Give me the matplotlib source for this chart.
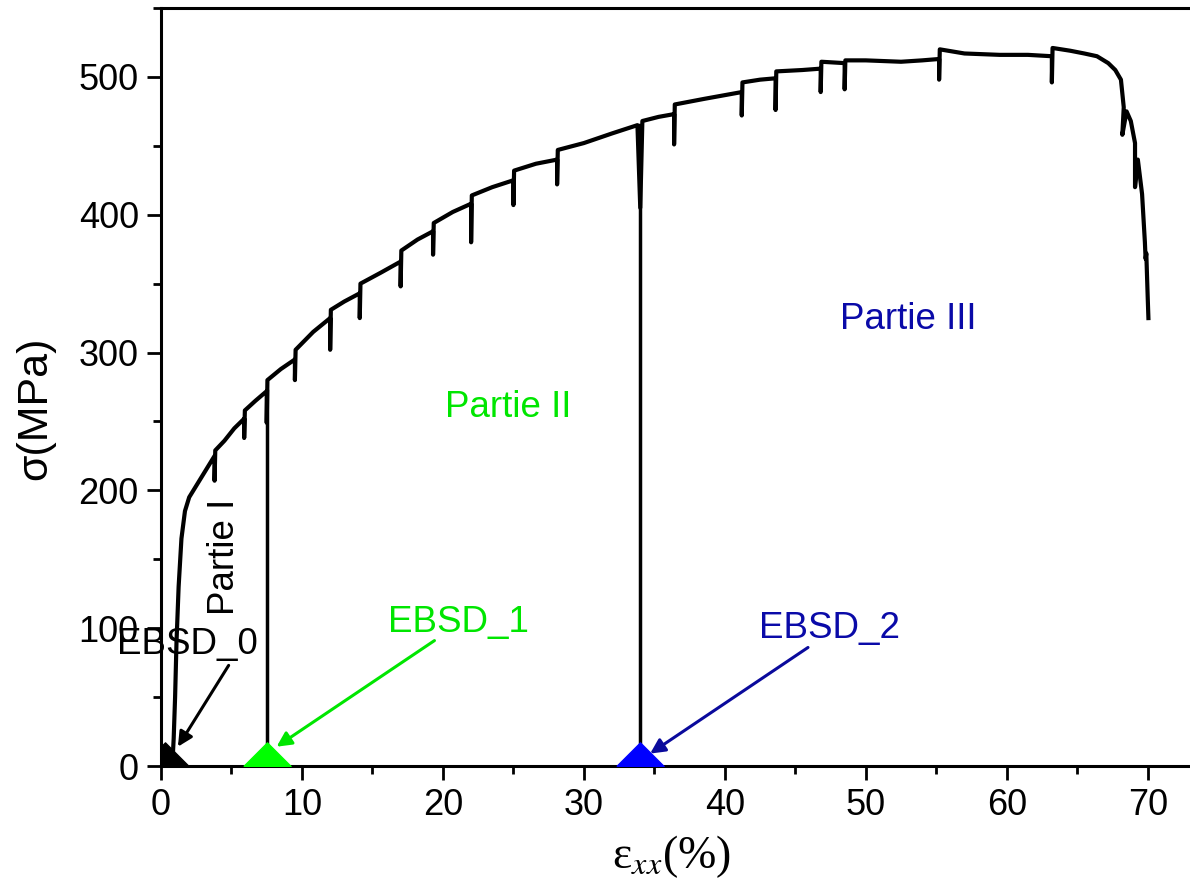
import matplotlib.pyplot as plt
from matplotlib.ticker import MultipleLocator

plt.rcParams['font.family'] = ['Liberation Sans', 'DejaVu Sans']
plt.rcParams['mathtext.fontset'] = 'stix'

# tensile curve (strain %, stress MPa), dips = partial unloads
strain = [0.8, 0.9, 1.0, 1.1, 1.25, 1.45, 1.7, 2.0, 2.6, 3.2,
          3.8, 3.8, 3.85, 4.5, 5.2, 5.9, 5.9, 5.95, 6.7,
          7.5, 7.5, 7.55, 8.5, 9.5, 9.5, 9.55, 10.8,
          12.0, 12.0, 12.05, 13.0, 14.1, 14.1, 14.15, 15.6,
          17.0, 17.0, 17.05, 18.2, 19.3, 19.3, 19.35, 20.7,
          22.0, 22.0, 22.05, 23.5, 25.0, 25.0, 25.05, 26.6,
          28.1, 28.1, 28.15, 30.0, 32.0, 33.8, 34.0, 34.15, 35.3,
          36.4, 36.4, 36.45, 38.5, 41.2, 41.2, 41.25, 42.5,
          43.6, 43.6, 43.65, 45.5, 46.8, 46.8, 46.85,
          48.5, 48.5, 48.55, 50.0, 52.5, 54.0,
          55.2, 55.2, 55.25, 57.0, 59.5, 61.5,
          63.2, 63.2, 63.25, 64.5, 65.5, 66.4, 67.2, 67.7, 68.1,
          68.3, 68.2, 68.5, 68.8, 69.1, 69.1, 69.3, 69.6, 69.8,
          69.85, 69.9, 70.0, 70.05]
stress = [0, 20, 50, 90, 130, 165, 185, 195, 205, 215,
          225, 207, 229, 236, 245, 252, 238, 258, 265,
          272, 249, 280, 288, 295, 280, 302, 315,
          325, 302, 331, 337, 343, 325, 350, 358,
          366, 348, 374, 382, 388, 371, 394, 402,
          408, 380, 414, 420, 425, 407, 432, 437,
          440, 422, 447, 452, 459, 465, 405, 468, 471,
          473, 451, 480, 484, 489, 472, 496, 498,
          499, 476, 504, 505, 506, 489, 511,
          510, 491, 512, 512, 511, 512,
          513, 498, 520, 517, 516, 516,
          515, 496, 521, 519, 517, 515, 510, 505, 498,
          478, 458, 475, 468, 452, 420, 440, 415, 380,
          368, 372, 340, 325]

# EBSD sampling points: strain at which the test was stopped, stress there
ebsd_strain = [0.3, 7.5, 34.0]
ebsd_stress_top = [0, 272, 465]
ebsd_names = ['EBSD_0', 'EBSD_1', 'EBSD_2']
ebsd_colors = ['black', '#00ff00', '#0000ff']
ebsd_text_colors = ['black', '#00e600', '#0a0aa8']
ebsd_arrow_colors = ['black', '#00e600', '#0a0a9c']
ebsd_text_pos = [(1.85, 88), (21.1, 104), (47.4, 100)]
ebsd_arrow_start = [(4.8, 73), (19.4, 91), (45.9, 86)]
ebsd_arrow_end = [(1.2, 14), (8.2, 14), (34.7, 9)]

fig = plt.figure(figsize=(11.9, 8.81), dpi=100)
ax = fig.add_axes([161 / 1190, 115 / 881, 1029 / 1190, 758 / 881])

ax.plot(strain, stress, color='black', lw=3, solid_joinstyle='round', zorder=3)

# unloading lines down to zero at the EBSD stops
for x, top in zip(ebsd_strain[1:], ebsd_stress_top[1:]):
    ax.plot([x, x], [0, top], color='black', lw=2.5, zorder=2)

# half-triangle symbols on the x axis
tri = [(-1, 0), (1, 0), (0, 1), (-1, 0)]
for x, c in zip(ebsd_strain, ebsd_colors):
    ax.plot([x], [0], marker=tri, markersize=34, color=c, ls='none', zorder=4)

for name, tc, ac, tp, st, en in zip(ebsd_names, ebsd_text_colors, ebsd_arrow_colors,
                                    ebsd_text_pos, ebsd_arrow_start, ebsd_arrow_end):
    ax.text(tp[0], tp[1], name, color=tc, fontsize=26.5, ha='center', va='center', zorder=5)
    ax.annotate('', xy=en, xytext=st,
                arrowprops=dict(arrowstyle='-|>', color=ac, lw=2.2, mutation_scale=22,
                                shrinkA=0, shrinkB=0), zorder=5)

ax.text(4.5, 152, 'Partie I', color='black', fontsize=26.5, rotation=90,
        ha='center', va='center')
ax.text(24.6, 260, 'Partie II', color='#00e600', fontsize=26.5, ha='center', va='center')
ax.text(53.0, 324, 'Partie III', color='#0a0aa8', fontsize=26.5, ha='center', va='center')

ax.set_xlim(0, 73)
ax.set_ylim(0, 550)
ax.xaxis.set_major_locator(MultipleLocator(10))
ax.xaxis.set_minor_locator(MultipleLocator(5))
ax.yaxis.set_major_locator(MultipleLocator(100))
ax.yaxis.set_minor_locator(MultipleLocator(50))
ax.tick_params(which='major', direction='out', length=10, width=2, labelsize=26, pad=6)
ax.tick_params(which='minor', direction='out', length=6, width=2)

ax.spines['right'].set_visible(False)
for s in ['left', 'bottom', 'top']:
    ax.spines[s].set_linewidth(2.2)

ax.set_ylabel('σ(MPa)', fontsize=31)
ax.yaxis.set_label_coords(-0.103, 0.472)
ax.set_xlabel('ε$_{xx}$(%)', fontsize=33, family=['Liberation Serif', 'DejaVu Serif'])
ax.xaxis.set_label_coords(0.496, -0.088)

fig.savefig('out.png', dpi=100)
